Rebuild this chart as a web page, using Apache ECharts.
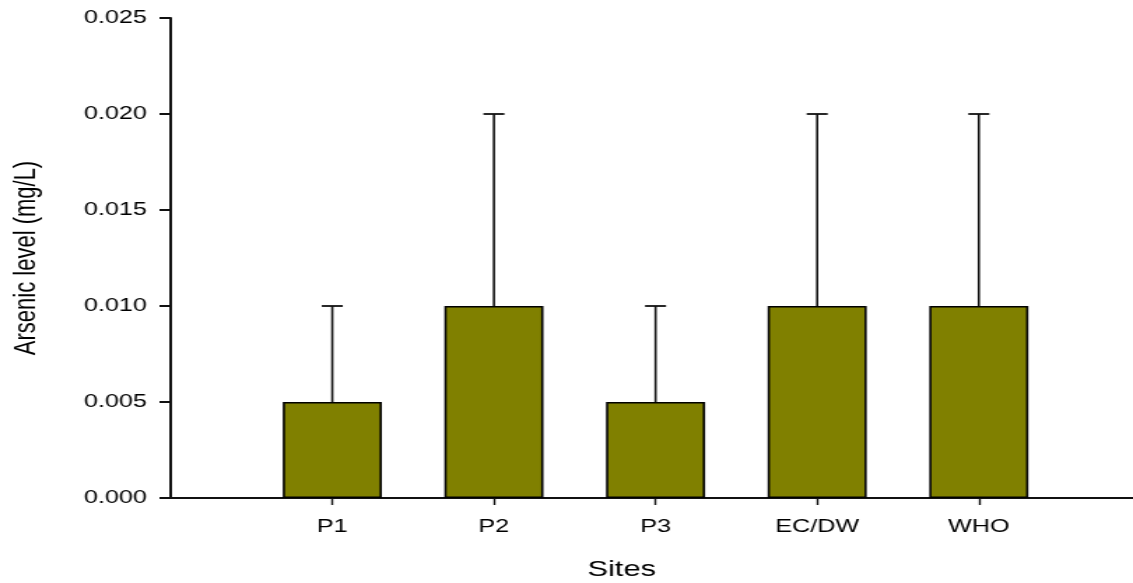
<!DOCTYPE html>
<html>
<head>
<meta charset="utf-8">
<title>Arsenic level by site</title>
<script src="https://cdn.jsdelivr.net/npm/echarts@6/dist/echarts.min.js"></script>
<style>
  html, body { margin: 0; padding: 0; background: #fff; overflow: hidden; }
  /* the plot is laid out narrow and widened horizontally, giving the wide lettering */
  #chart { width: 810px; height: 583px; transform: scaleX(1.398765); transform-origin: 0 0; }
</style>
</head>
<body>
<div id="chart"></div>
<script>
// Sites and measured arsenic (mg/L)
const sites = ['P1', 'P2', 'P3', 'EC/DW', 'WHO'];
const arsenic = [0.005, 0.010, 0.005, 0.010, 0.010];
// upper error (added above each bar)
const arsenicErr = [0.005, 0.010, 0.005, 0.010, 0.010];
// y-axis ticks
const yTicks = [0.000, 0.005, 0.010, 0.015, 0.020, 0.025];

const FONT = "'Liberation Sans', Arial, sans-serif";
const AXIS_COLOR = '#111';

const positions = sites.map((_, i) => i + 1);
const barData = sites.map((_, i) => [positions[i], arsenic[i]]);
const errData = sites.map((_, i) => [positions[i], arsenic[i], arsenicErr[i]]);

const chart = echarts.init(document.getElementById('chart'), null, { renderer: 'canvas' });

chart.setOption({
  animation: false,
  backgroundColor: '#fff',
  grid: { left: 117.2, right: 0, top: 18, bottom: 85, containLabel: false },
  xAxis: {
    type: 'value',
    min: 0,
    max: 5.954,
    splitLine: { show: false },
    axisLine: { show: true, lineStyle: { color: AXIS_COLOR, width: 2 } },
    axisTick: {
      show: true, length: 7, inside: false,
      customValues: positions,
      lineStyle: { color: AXIS_COLOR, width: 1.4 }
    },
    axisLabel: {
      show: true, margin: 20,
      customValues: positions,
      formatter: v => sites[Math.round(v) - 1] || '',
      color: '#000', fontSize: 18, fontFamily: FONT
    }
  },
  yAxis: {
    type: 'value',
    min: yTicks[0],
    max: yTicks[yTicks.length - 1],
    interval: 0.005,
    name: 'Arsenic level (mg/L)',
    nameLocation: 'middle',
    nameGap: 92,
    nameRotate: 90,
    nameTextStyle: { color: '#000', fontSize: 22, fontFamily: FONT },
    splitLine: { show: false },
    axisLine: { show: true, lineStyle: { color: AXIS_COLOR, width: 2 } },
    axisTick: { show: true, length: 8, inside: false, lineStyle: { color: AXIS_COLOR, width: 2 } },
    axisLabel: {
      margin: 17,
      formatter: v => v.toFixed(3),
      color: '#000', fontSize: 18, fontFamily: FONT
    }
  },
  graphic: [{
    type: 'text',
    left: 420,
    top: 559,
    style: { text: 'Sites', fill: '#000', fontSize: 22, fontFamily: FONT }
  }],
  series: [
    {
      type: 'bar',
      data: barData,
      barWidth: 70.8,
      itemStyle: { color: '#808000', borderColor: '#000', borderWidth: 1.6 },
      z: 2
    },
    {
      type: 'custom',
      data: errData,
      z: 3,
      renderItem: function (params, api) {
        const x = api.value(0);
        const y = api.value(1);
        const e = api.value(2);
        const base = api.coord([x, y]);
        const top = api.coord([x, y + e]);
        const half = 7.5;
        return {
          type: 'group',
          children: [
            { type: 'line', shape: { x1: base[0], y1: base[1], x2: top[0], y2: top[1] }, style: { stroke: '#111', lineWidth: 1.6 } },
            { type: 'line', shape: { x1: top[0] - half, y1: top[1], x2: top[0] + half, y2: top[1] }, style: { stroke: '#111', lineWidth: 1.8 } }
          ]
        };
      }
    }
  ]
});
</script>
</body>
</html>
